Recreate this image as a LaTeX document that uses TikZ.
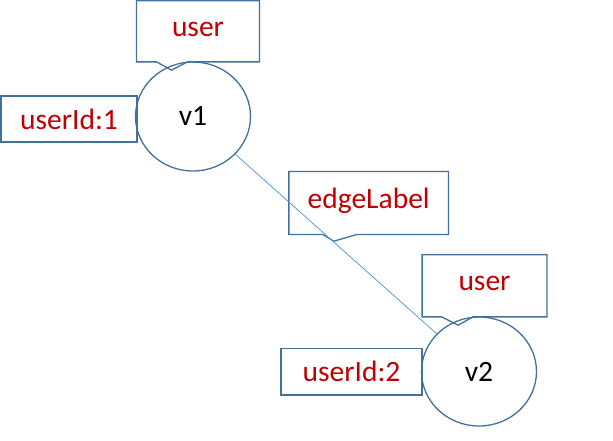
\documentclass[tikz,border=0pt]{standalone}
\usepackage{fontspec}
\setmainfont{Carlito}
\usetikzlibrary{shapes.geometric,calc}
\definecolor{bordblue}{HTML}{41719C}
\definecolor{edgeblue}{HTML}{5B9BD5}
\definecolor{labred}{HTML}{C00000}
\tikzset{
  vert/.style={ellipse, draw=bordblue, line width=1.3pt, minimum width=115pt, minimum height=109pt, inner sep=0pt, font=\fontsize{29.5}{31}\selectfont},
  propbox/.style={rectangle, draw=bordblue, line width=1.8pt, inner sep=0pt, text=labred, font=\fontsize{29.5}{31}\selectfont},
  calloutbody/.style={rectangle, draw=none, inner sep=0pt, text=labred, font=\fontsize{29.5}{31}\selectfont},
  calloutline/.style={draw=bordblue, line width=1.3pt, line join=miter},
  edgeline/.style={draw=edgeblue, line width=0.8pt}
}
\begin{document}
\begin{tikzpicture}[x=1pt,y=-1pt]
\useasboundingbox (0,0) rectangle (613,440);
% vertices
\node[vert] (v1) at (193,116.5) {v1};
\node[vert] (v2) at (479,371.5) {v2};
% property boxes
\node[propbox, minimum width=135.5pt, minimum height=46pt] (p1) at (69,119.2) {userId:1};
\node[propbox, minimum width=141.5pt, minimum height=46.5pt] (p2) at (351.5,371.7) {userId:2};
% callouts
\node[calloutbody, minimum width=122.6pt, minimum height=60.7pt] (c1) at (198,31.3) {};
\node[calloutbody, minimum width=159.3pt, minimum height=62.6pt] (c2) at (368.7,203) {};
\node[calloutbody, minimum width=124.4pt, minimum height=61.7pt] (c3) at (484.5,285.8) {};
\node[calloutbody] (t1) at ([yshift=2]c1.center) {user};
\node[calloutbody] (t2) at ([yshift=2]c2.center) {edgeLabel};
\node[calloutbody] (t3) at ([yshift=2]c3.center) {user};
\draw[calloutline] ($(c1.south west)+(20,0)$) -- (c1.south west) -- (c1.north west) -- (c1.north east) -- (c1.south east) -- ($(c1.south west)+(51,0)$) -- ($(c1.south west)+(35,8.3)$) -- cycle;
\draw[calloutline] ($(c2.south west)+(34,0)$) -- (c2.south west) -- (c2.north west) -- (c2.north east) -- (c2.south east) -- ($(c2.south west)+(68,0)$) -- ($(c2.south west)+(45,6.7)$) -- cycle;
\draw[calloutline] ($(c3.south west)+(19.5,0)$) -- (c3.south west) -- (c3.north west) -- (c3.north east) -- (c3.south east) -- ($(c3.south west)+(51,0)$) -- ($(c3.south west)+(36,8.3)$) -- cycle;
% edge
\draw[edgeline] (v1) -- (v2);
\end{tikzpicture}
\end{document}
